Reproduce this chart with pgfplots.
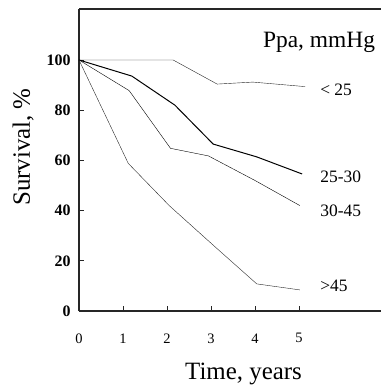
\documentclass[border=0pt]{standalone}
\usepackage{fontspec}
\setmainfont{Liberation Serif}
\usepackage{pgfplots}
\pgfplotsset{compat=1.18}
\begin{document}
\begin{tikzpicture}
\useasboundingbox (0,0) rectangle (381bp,386bp);
\begin{axis}[
  at={(79bp,75bp)}, anchor=south west,
  x=44bp, y=2.51bp,
  xmin=0, xmax=6.95, ymin=0, ymax=120.3,
  axis x line=bottom, axis y line=left,
  axis line style={-, line width=1.2pt, black!85},
  xtick={0,1,2,3,4,5}, ytick={0,20,40,60,80,100},
  xtick pos=left, ytick pos=left,
  tick align=inside, major tick length=5bp,
  tick style={line width=1pt, black!85},
  /pgf/number format/assume math mode=true,
  xticklabel style={font=\fontsize{14.5}{15}\selectfont},
  yticklabel style={font=\fontsize{16}{16}\selectfont\bfseries},
  xticklabel shift=19bp, yticklabel shift=5bp,
  xlabel={Time, years}, ylabel={Survival, \%},
  every axis x label/.style={at={(axis description cs:0.538,-0.228)}, anchor=base, font=\fontsize{25}{25}\selectfont},
  every axis y label/.style={at={(axis description cs:-0.183,0.543)}, rotate=90, anchor=center, font=\fontsize{25}{25}\selectfont},
  clip=false,
  cycle list={{black!85, line width=1pt, mark=none}},
]
\draw[line width=1.2pt, black!85] (rel axis cs:0,1) -- (rel axis cs:1,1);
\addplot coordinates {(0,100) (2.14,100) (3.14,90.4) (3.95,91.2) (5.14,89.4)};
\addplot coordinates {(0,100) (1.2,93.6) (2.18,82) (3.05,66.5) (4.04,61.4) (5.07,54.6)};
\addplot coordinates {(0,100) (1.14,87.8) (2.08,64.8) (2.94,61.8) (4.0,52) (5.02,42)};
\addplot coordinates {(0,100) (1.12,58.8) (2.05,42) (3.09,25.6) (4.04,10.8) (5.02,8.4)};
\node[anchor=base west, inner sep=0, font=\fontsize{23.5}{24}\selectfont] at (axis cs:4.18,104.8) {Ppa, mmHg};
\node[anchor=base west, inner sep=0, font=\fontsize{17.5}{18}\selectfont] at (axis cs:5.48,85.7) {< 25};
\node[anchor=base west, inner sep=0, font=\fontsize{17.5}{18}\selectfont] at (axis cs:5.48,51) {25-30};
\node[anchor=base west, inner sep=0, font=\fontsize{17.5}{18}\selectfont] at (axis cs:5.48,37.5) {30-45};
\node[anchor=base west, inner sep=0, font=\fontsize{17.5}{18}\selectfont] at (axis cs:5.48,7.7) {>45};
\end{axis}
\end{tikzpicture}
\end{document}
